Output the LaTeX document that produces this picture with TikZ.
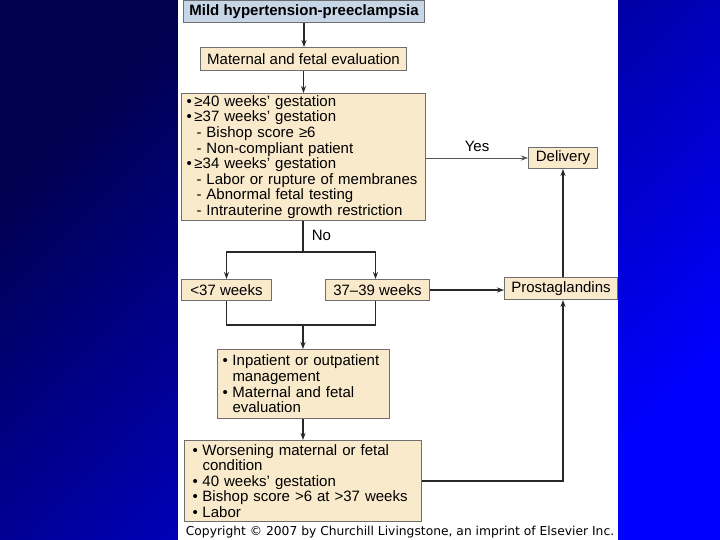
\documentclass[tikz,border=0pt]{standalone}
\usepackage{fontspec}
\setmainfont{Liberation Sans}
\newfontfamily\copyfont{DejaVu Sans}
\usetikzlibrary{arrows.meta,calc}
\definecolor{bgdark}{RGB}{0,0,78}
\definecolor{bgmid}{RGB}{0,0,195}
\definecolor{bgbright}{RGB}{0,0,255}
\definecolor{boxfill}{RGB}{250,234,204}
\definecolor{titlefill}{RGB}{198,214,230}
\definecolor{boxline}{RGB}{110,110,110}
\definecolor{linecol}{RGB}{40,40,40}
\newcommand{\bl}[1][7pt]{\makebox[#1][l]{•}}
\newcommand{\subi}{\hspace*{10pt}}
\tikzset{
  boxnode/.style={draw=boxline, line width=1pt, fill=boxfill, anchor=north west,
    inner xsep=5pt, inner ysep=2pt, align=left,
    font=\fontsize{15}{15.6}\selectfont},
  onebox/.style={boxnode, align=center, inner xsep=0pt},
  arr/.style={draw=linecol, line width=1.6pt, -{Stealth[length=7pt,width=5pt]}},
  plain/.style={draw=linecol, line width=1.6pt},
  thinarr/.style={draw=linecol!80, line width=0.9pt, -{Stealth[length=7pt,width=5pt]}},
  lbl/.style={font=\fontsize{15}{15}\selectfont, text=black, inner sep=0pt}
}
\begin{document}
\begin{tikzpicture}[x=1pt,y=-1pt]
\useasboundingbox (0,0) rectangle (720,540);
\shade[top color=bgdark, middle color=bgmid, bottom color=bgbright, shading angle=45] (0,0) rectangle (720,540);
\fill[white] (178,0) rectangle (618,540);

\node[onebox, fill=titlefill, minimum width=241pt, minimum height=22pt,
  font=\fontsize{15}{15}\selectfont\bfseries] (title) at (183,0) {Mild hypertension-preeclampsia};
\node[onebox, minimum width=206pt, minimum height=23pt] (eval) at (200,47) {Maternal and fetal evaluation};
\node[boxnode, text width=234pt, minimum height=126pt] (crit) at (181,93) {%
\bl[8pt]≥40 weeks’ gestation\\
\bl[8pt]≥37 weeks’ gestation\\
\subi- Bishop score ≥6\\
\subi- Non-compliant patient\\
\bl[8pt]≥34 weeks’ gestation\\
\subi- Labor or rupture of membranes\\
\subi- Abnormal fetal testing\\
\subi- Intrauterine growth restriction};
\node[onebox, minimum width=69pt, minimum height=21pt] (deliv) at (528,147) {Delivery};
\node[onebox, minimum width=90pt, minimum height=21pt] (lt) at (181,279) {<37 weeks};
\node[onebox, minimum width=104pt, minimum height=21pt] (mid) at (325,279) {37–39 weeks};
\node[onebox, minimum width=113pt, minimum height=22pt] (prost) at (504,277) {Prostaglandins};
\node[boxnode, text width=162pt, minimum height=69pt, inner xsep=5pt] (inp) at (217,349) {%
\bl[10pt]Inpatient or outpatient\\
\hspace*{10pt}management\\
\bl[10pt]Maternal and fetal\\
\hspace*{10pt}evaluation};
\node[boxnode, text width=221pt, minimum height=81pt, inner xsep=8pt] (worse) at (184,440) {%
\bl[10pt]Worsening maternal or fetal\\
\hspace*{10pt}condition\\
\bl[10pt]40 weeks’ gestation\\
\bl[10pt]Bishop score >6 at >37 weeks\\
\bl[10pt]Labor};

\node[font=\copyfont\fontsize{12.3}{13}\selectfont, inner sep=0pt, anchor=base] (copy) at (400,535)
  {Copyright © 2007 by Churchill Livingstone, an imprint of Elsevier Inc.};

\draw[arr] (title.south) -- (title.south |- eval.north);
\draw[arr] (eval.south) -- (eval.south |- crit.north);
\draw[thinarr] (deliv.west -| crit.east) -- node[lbl, above=6pt] (yes) {Yes} (deliv.west);
\coordinate (split) at (303,252);
\draw[plain] (crit.south -| split) -- node[lbl, pos=0.45, right=8pt] (no) {No} (split);
\draw[arr] (split) -| (lt.north);
\draw[arr] (split) -| ($(mid.north)+(-2,0)$);
\coordinate (join) at (303,325);
\draw[plain] (lt.south) |- (join);
\draw[plain] ($(mid.south)+(-2,0)$) |- (join);
\draw[arr] (join) -- (join |- inp.north);
\coordinate (inpout) at (inp.south -| join);
\coordinate (worsein) at (worse.north -| join);
\draw[arr] (inpout) -- (worsein);
\draw[arr, line width=2pt] (mid.east) -- (mid.east -| prost.west);
\draw[arr] (worse.east) -| (deliv.south |- prost.south);
\draw[arr] (deliv.south |- prost.north) -- (deliv.south);
\end{tikzpicture}
\end{document}
